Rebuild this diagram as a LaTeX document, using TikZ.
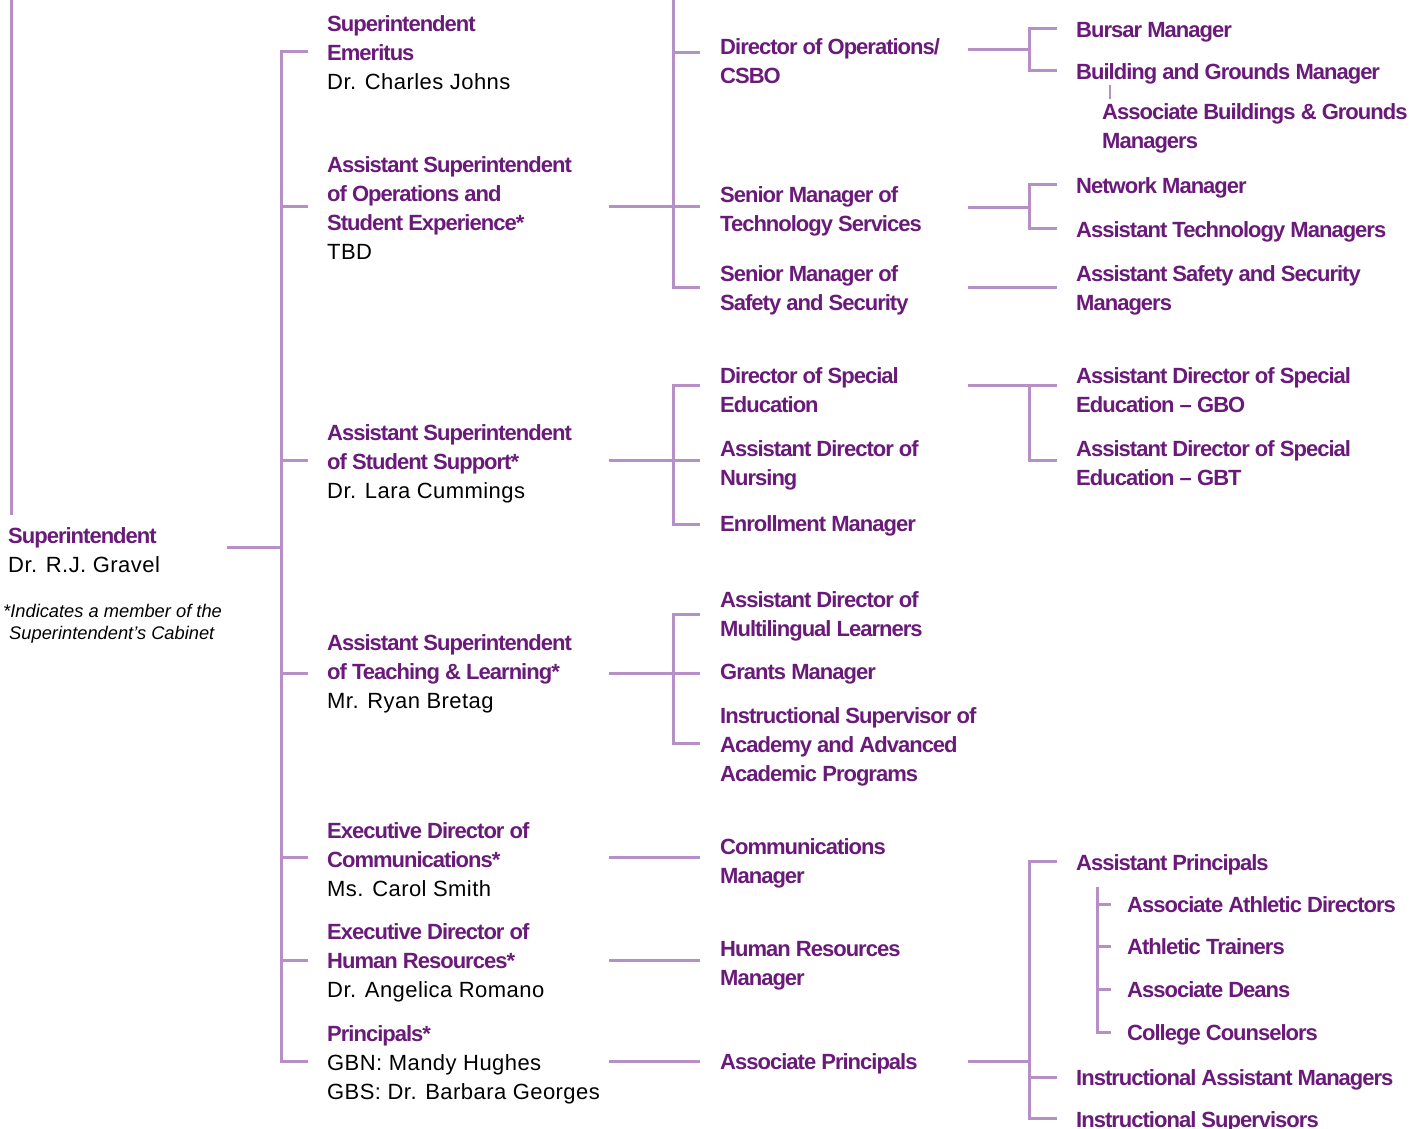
\documentclass[tikz,border=0pt]{standalone}
\usepackage{fontspec}
\setmainfont{Liberation Sans}
\newfontfamily\titlefont{Liberation Sans}[LetterSpace=-4.5]
\newfontfamily\regfont{Liberation Sans}[LetterSpace=2]
\definecolor{tp}{RGB}{106,27,122}
\definecolor{ln}{RGB}{182,143,198}
\newcommand{\B}[1]{{\color{tp}\titlefont\bfseries #1}}
\tikzset{
  t/.style={anchor=base west, inner sep=0pt, align=left, text=black,
            font=\fontsize{22}{29}\selectfont\regfont},
  notetext/.style={anchor=base west, inner sep=0pt, align=left, text=black,
            font=\fontsize{18.3}{22}\selectfont\itshape},
  link/.style={draw=ln, line width=3pt},
  thinlink/.style={draw=ln, line width=1.8pt}
}
\begin{document}
\begin{tikzpicture}[x=1pt,y=1pt]
\fill[white] (0,0) rectangle (1416,-1129);
\useasboundingbox (0,0) rectangle (1416,-1129);
% (node positions give the baseline of the LAST line of each text)

% ---------- Superintendent ----------
\node[t] (sup) at (8,-572) {\B{Superintendent}\\Dr. R.J. Gravel};
\node[notetext] (note) at (3,-639) {*Indicates a member of the\\\hspace*{6pt}Superintendent’s Cabinet};

% ---------- Level 1 ----------
\node[t] (emer) at (327,-90) {\B{Superintendent}\\\B{Emeritus}\\Dr. Charles Johns};
\node[t] (aops) at (327,-259) {\B{Assistant Superintendent}\\\B{of Operations and}\\\B{Student Experience*}\\TBD};
\node[t] (ass) at (327,-498) {\B{Assistant Superintendent}\\\B{of Student Support*}\\Dr. Lara Cummings};
\node[t] (atl) at (327,-708) {\B{Assistant Superintendent}\\\B{of Teaching \& Learning*}\\Mr. Ryan Bretag};
\node[t] (comm) at (327,-896) {\B{Executive Director of}\\\B{Communications*}\\Ms. Carol Smith};
\node[t] (hr) at (327,-997) {\B{Executive Director of}\\\B{Human Resources*}\\Dr. Angelica Romano};
\node[t] (prin) at (327,-1099) {\B{Principals*}\\GBN: Mandy Hughes\\GBS: Dr. Barbara Georges};

% ---------- Level 2 ----------
\node[t] (dops) at (720,-84) {\B{Director of Operations/}\\\B{CSBO}};
\node[t] (smtech) at (720,-231) {\B{Senior Manager of}\\\B{Technology Services}};
\node[t] (smsafe) at (720,-310) {\B{Senior Manager of}\\\B{Safety and Security}};
\node[t] (dsped) at (720,-412) {\B{Director of Special}\\\B{Education}};
\node[t] (nurse) at (720,-485) {\B{Assistant Director of}\\\B{Nursing}};
\node[t] (enrol) at (720,-531) {\B{Enrollment Manager}};
\node[t] (multi) at (720,-636) {\B{Assistant Director of}\\\B{Multilingual Learners}};
\node[t] (grant) at (720,-679) {\B{Grants Manager}};
\node[t] (isup) at (720,-781) {\B{Instructional Supervisor of}\\\B{Academy and Advanced}\\\B{Academic Programs}};
\node[t] (cmgr) at (720,-883) {\B{Communications}\\\B{Manager}};
\node[t] (hrmgr) at (720,-985) {\B{Human Resources}\\\B{Manager}};
\node[t] (aprin) at (720,-1069) {\B{Associate Principals}};

% ---------- Level 3 ----------
\node[t] (bursar) at (1076,-38) {\B{Bursar Manager}};
\node[t] (bgm) at (1076,-80) {\B{Building and Grounds Manager}};
\node[t] (abgm) at (1102,-149) {\B{Associate Buildings \& Grounds}\\\B{Managers}};
\node[t] (netm) at (1076,-193) {\B{Network Manager}};
\node[t] (atm) at (1076,-237) {\B{Assistant Technology Managers}};
\node[t] (assm) at (1076,-310) {\B{Assistant Safety and Security}\\\B{Managers}};
\node[t] (gbo) at (1076,-412) {\B{Assistant Director of Special}\\\B{Education – GBO}};
\node[t] (gbt) at (1076,-485) {\B{Assistant Director of Special}\\\B{Education – GBT}};
\node[t] (asprin) at (1076,-870) {\B{Assistant Principals}};
\node[t] (aad) at (1127,-912) {\B{Associate Athletic Directors}};
\node[t] (atr) at (1127,-954) {\B{Athletic Trainers}};
\node[t] (adean) at (1127,-997) {\B{Associate Deans}};
\node[t] (ccoun) at (1127,-1040) {\B{College Counselors}};
\node[t] (iam) at (1076,-1085) {\B{Instructional Assistant Managers}};
\node[t] (isv) at (1076,-1127) {\B{Instructional Supervisors}};

% ---------- Connectors: superintendent ----------
\coordinate (lt) at (11,0);
\coordinate (lb) at (11,-515);
\draw[link] (lt) -- (lb);
\coordinate (sin) at (227,-547);
\coordinate (sj) at (281,-547);
\draw[link] (sin) -- (sj);

% spine
\coordinate (s0) at (281,-52);   \coordinate (e0) at (308,-52);
\coordinate (s1) at (281,-206);  \coordinate (e1) at (308,-206);
\coordinate (s2) at (281,-460);  \coordinate (e2) at (308,-460);
\coordinate (s3) at (281,-673);  \coordinate (e3) at (308,-673);
\coordinate (s4) at (281,-857);  \coordinate (e4) at (308,-857);
\coordinate (s5) at (281,-960);  \coordinate (e5) at (308,-960);
\coordinate (s6) at (281,-1061); \coordinate (e6) at (308,-1061);
\draw[link] (e0) -- (s0) -- (s6) -- (e6);
\foreach \i in {1,...,5} {\draw[link] (s\i) -- (e\i);}

% ---------- Level 1 -> Level 2 ----------
\coordinate (o1) at (609,-206);  \coordinate (c1) at (700,-206);
\coordinate (o2) at (609,-460);  \coordinate (c2) at (700,-460);
\coordinate (o3) at (609,-673);  \coordinate (c3) at (700,-673);
\coordinate (o4) at (609,-857);  \coordinate (c4) at (700,-857);
\coordinate (o5) at (609,-960);  \coordinate (c5) at (700,-960);
\coordinate (o6) at (609,-1061); \coordinate (c6) at (700,-1061);
\foreach \i in {1,...,6} {\draw[link] (o\i) -- (c\i);}

% operations bracket
\coordinate (b1t) at (673,0);
\coordinate (b1a) at (673,-53);  \coordinate (d1a) at (700,-53);
\coordinate (b1c) at (673,-287); \coordinate (d1c) at (700,-287);
\draw[link] (b1t) -- (b1c) -- (d1c);
\draw[link] (b1a) -- (d1a);

% student support bracket
\coordinate (b2a) at (673,-385); \coordinate (d2a) at (700,-385);
\coordinate (b2c) at (673,-524); \coordinate (d2c) at (700,-524);
\draw[link] (d2a) -- (b2a) -- (b2c) -- (d2c);

% teaching & learning bracket
\coordinate (b3a) at (673,-614); \coordinate (d3a) at (700,-614);
\coordinate (b3c) at (673,-743); \coordinate (d3c) at (700,-743);
\draw[link] (d3a) -- (b3a) -- (b3c) -- (d3c);

% ---------- Level 2 -> Level 3 ----------
% operations
\coordinate (p1) at (968,-50);  \coordinate (q1) at (1029,-50);
\coordinate (q1a) at (1029,-29); \coordinate (r1a) at (1057,-29);
\coordinate (q1b) at (1029,-71); \coordinate (r1b) at (1057,-71);
\draw[link] (p1) -- (q1);
\draw[link] (r1a) -- (q1a) -- (q1b) -- (r1b);
\coordinate (bg1) at (1110,-85); \coordinate (bg2) at (1110,-99);
\draw[thinlink] (bg1) -- (bg2);

% technology
\coordinate (p2) at (968,-207);  \coordinate (q2) at (1029,-207);
\coordinate (q2a) at (1029,-184); \coordinate (r2a) at (1057,-184);
\coordinate (q2b) at (1029,-228); \coordinate (r2b) at (1057,-228);
\draw[link] (p2) -- (q2);
\draw[link] (r2a) -- (q2a) -- (q2b) -- (r2b);

% safety
\coordinate (p3) at (968,-287); \coordinate (r3) at (1057,-287);
\draw[link] (p3) -- (r3);

% special education
\coordinate (p4) at (968,-385); \coordinate (r4a) at (1057,-385);
\coordinate (q4a) at (1029,-385);
\coordinate (q4b) at (1029,-460); \coordinate (r4b) at (1057,-460);
\draw[link] (p4) -- (r4a);
\draw[link] (q4a) -- (q4b) -- (r4b);

% associate principals
\coordinate (p5) at (968,-1061); \coordinate (q5) at (1029,-1061);
\coordinate (q5a) at (1029,-861); \coordinate (r5a) at (1057,-861);
\coordinate (q5b) at (1029,-1077); \coordinate (r5b) at (1057,-1077);
\coordinate (q5c) at (1029,-1118); \coordinate (r5c) at (1057,-1118);
\draw[link] (p5) -- (q5);
\draw[link] (r5a) -- (q5a) -- (q5c) -- (r5c);
\draw[link] (q5b) -- (r5b);

% assistant principals sub-bracket
\coordinate (u0) at (1097,-887);
\coordinate (u1) at (1097,-904);  \coordinate (v1) at (1111,-904);
\coordinate (u2) at (1097,-946);  \coordinate (v2) at (1111,-946);
\coordinate (u3) at (1097,-989);  \coordinate (v3) at (1111,-989);
\coordinate (u4) at (1097,-1032); \coordinate (v4) at (1111,-1032);
\draw[link] (u0) -- (u4) -- (v4);
\foreach \i in {1,2,3} {\draw[link] (u\i) -- (v\i);}
\end{tikzpicture}
\end{document}
